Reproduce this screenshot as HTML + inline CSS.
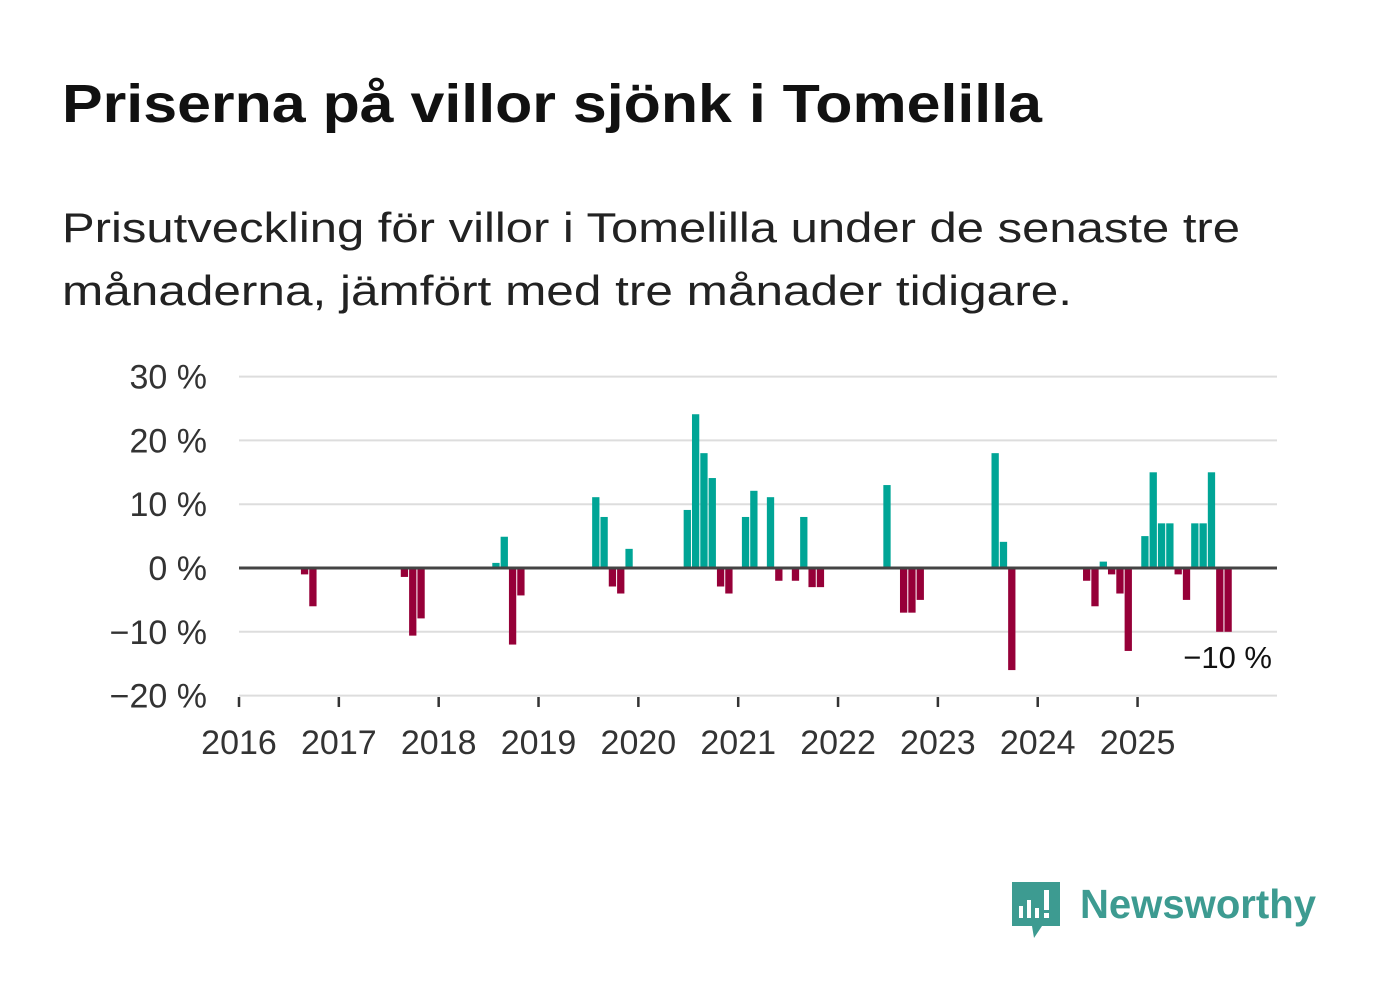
<!DOCTYPE html>
<html><head><meta charset="utf-8">
<style>
body{margin:0;background:#fff;width:1382px;height:999px;overflow:hidden;font-family:"Liberation Sans",sans-serif;}
</style></head>
<body>
<svg width="1382" height="999" xmlns="http://www.w3.org/2000/svg">
<text x="62" y="122" font-size="54" font-weight="bold" fill="#111" textLength="980" lengthAdjust="spacingAndGlyphs">Priserna på villor sjönk i Tomelilla</text>
<text x="62" y="242" font-size="42" fill="#222" textLength="1178" lengthAdjust="spacingAndGlyphs">Prisutveckling för villor i Tomelilla under de senaste tre</text>
<text x="62" y="305" font-size="42" fill="#222" textLength="1010" lengthAdjust="spacingAndGlyphs">månaderna, jämfört med tre månader tidigare.</text>
<g id="grid"></g>
<g id="bars"></g>
<g id="axes"></g>
<text x="1272" y="668" font-size="31" fill="#111" text-anchor="end">−10 %</text>
<g>
<path d="M1012 882 h48 v44 h-18 l-8 12 l-2 -12 h-20 z" fill="#3d9b91"/>
<rect x="1019" y="906" width="4" height="12" fill="#fff"/>
<rect x="1027" y="900" width="4" height="18" fill="#fff"/>
<rect x="1035" y="908" width="4" height="10" fill="#fff"/>
<rect x="1044" y="890" width="5" height="20" fill="#fff"/>
<rect x="1044" y="913" width="5" height="5" fill="#fff"/>
<text x="1080" y="918" font-size="41" font-weight="bold" fill="#3d9b91" textLength="236" lengthAdjust="spacingAndGlyphs">Newsworthy</text>
</g>
</svg>
<script>
const months=[7,8,19,20,21,30,31,32,33,42,43,44,45,46,53,54,55,56,57,58,60,61,63,64,66,67,68,69,77,79,80,81,90,91,92,101,102,103,104,105,106,108,109,110,111,112,113,114,115,116,117,118];
const values=[-1,-6,-1.4,-10.6,-7.9,0.8,4.9,-12,-4.3,11.1,8,-2.9,-4,3,9.1,24.1,18,14.1,-2.9,-4,8,12.1,11.1,-2,-2,8,-3,-3,13,-7,-7,-5,18,4.1,-16,-2,-6,1,-1,-4,-13,5,15,7,7,-1,-5,7,7,15,-10,-10];
const yTicks=[30,20,10,0,-10,-20];
const yearLabels=["2016","2017","2018","2019","2020","2021","2022","2023","2024","2025"];
const NS="http://www.w3.org/2000/svg";
const X0=239,X1=1277,MW=8.32;
function x(m){return X0+m*MW;}
function y(v){return 568-v*6.38;}
const grid=document.getElementById('grid'),bars=document.getElementById('bars'),axes=document.getElementById('axes');
function mk(tag,attrs,parent){const e=document.createElementNS(NS,tag);for(const k in attrs)e.setAttribute(k,attrs[k]);parent.appendChild(e);return e;}
yTicks.forEach(t=>{
 if(t!==0){const l=mk('line',{x1:X0,x2:X1,y1:y(t),y2:y(t),stroke:'#ddd','stroke-width':2},grid);
 
 }
 const tx=mk('text',{x:207,y:y(t)+12,'font-size':34,fill:'#333','text-anchor':'end'},axes);
 tx.textContent=(t<0?'−'+(-t):t)+' %';
 
 
});
months.forEach((m,i)=>{
 const v=values[i];
 const r=mk('rect',{x:x(m)+3.7,width:7.3,y:v>=0?y(v):y(0),height:Math.abs(v*6.38),fill:v>=0?'#00a596':'#960038'},bars);
 
 
});
const z=mk('line',{x1:X0,x2:X1,y1:y(0),y2:y(0),stroke:'#444','stroke-width':3},axes);


yearLabels.forEach((lab,i)=>{
 const tk=mk('line',{x1:x(i*12),x2:x(i*12),y1:697,y2:707,stroke:'#333','stroke-width':2.5},axes);
 
 
 const tx=mk('text',{x:x(i*12),y:754,'font-size':34,fill:'#333','text-anchor':'middle'},axes);
 tx.textContent=lab;
 
 
});
</script>
</body></html>
